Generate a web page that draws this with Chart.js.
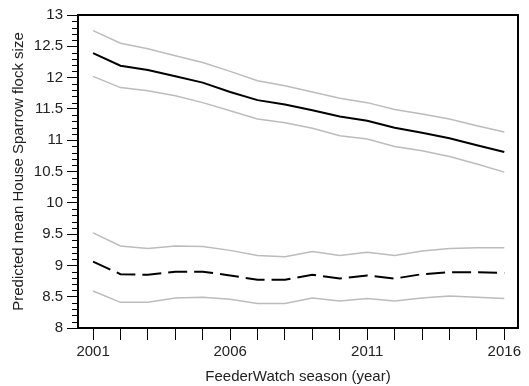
<!DOCTYPE html>
<html>
<head>
<meta charset="utf-8">
<script src="https://cdn.jsdelivr.net/npm/chart.js@4/dist/chart.umd.min.js"></script>
<style>
    html, body { margin: 0; padding: 0; background: #ffffff; }
    #wrap { width: 529px; height: 386px; }
</style>
</head>
<body>
<div id="wrap"><canvas id="chart" width="529" height="386"></canvas></div>
<script>
const years = [2001, 2002, 2003, 2004, 2005, 2006, 2007, 2008, 2009, 2010, 2011, 2012, 2013, 2014, 2015, 2016];
const yearLabels = [2001, 2006, 2011, 2016];

const upperMean = [12.39, 12.19, 12.12, 12.02, 11.92, 11.77, 11.64, 11.57, 11.48, 11.38, 11.31, 11.20, 11.12, 11.03, 10.92, 10.81];
const upperHigh = [12.75, 12.55, 12.46, 12.35, 12.24, 12.10, 11.95, 11.87, 11.77, 11.67, 11.60, 11.49, 11.42, 11.34, 11.23, 11.13];
const upperLow  = [12.02, 11.84, 11.79, 11.71, 11.60, 11.47, 11.34, 11.28, 11.19, 11.07, 11.02, 10.90, 10.83, 10.74, 10.62, 10.49];

const lowerMean = [9.06, 8.86, 8.85, 8.90, 8.90, 8.84, 8.77, 8.77, 8.85, 8.79, 8.84, 8.79, 8.86, 8.89, 8.89, 8.88];
const lowerHigh = [9.52, 9.31, 9.27, 9.31, 9.30, 9.24, 9.16, 9.14, 9.22, 9.16, 9.21, 9.16, 9.23, 9.27, 9.28, 9.28];
const lowerLow  = [8.59, 8.41, 8.41, 8.48, 8.49, 8.46, 8.39, 8.39, 8.48, 8.43, 8.47, 8.43, 8.48, 8.51, 8.49, 8.47];

const grey = '#bcbcbc';
const font = { family: "'Liberation Sans', Arial, sans-serif", size: 15 };

function pts(vals) {
    return vals.map((v, i) => ({ x: years[i], y: v }));
}

function line(vals, color, width, dash) {
    return {
        data: pts(vals),
        borderColor: color,
        borderWidth: width,
        borderDash: dash || [],
        pointRadius: 0,
        fill: false,
        tension: 0,
    };
}

// short minor ticks every 0.1 on the y axis + frame round the plot
const frameAndMinor = {
    id: 'frameAndMinor',
    afterDraw(chart) {
        const ctx = chart.ctx;
        const a = chart.chartArea;
        const y = chart.scales.y;
        ctx.save();
        ctx.strokeStyle = '#000';
        ctx.lineWidth = 1;
        for (let v = 80; v <= 130; v++) {
            if (v % 5 === 0) continue;
            const py = Math.round(y.getPixelForValue(v / 10)) + 0.5;
            ctx.beginPath();
            ctx.moveTo(a.left - 6, py);
            ctx.lineTo(a.left, py);
            ctx.stroke();
        }
        ctx.lineWidth = 2;
        ctx.strokeRect(a.left, a.top, a.right - a.left, a.bottom - a.top);
        ctx.restore();
    }
};

new Chart(document.getElementById('chart'), {
    type: 'line',
    data: {
        datasets: [
            line(upperHigh, grey, 1.5),
            line(upperLow, grey, 1.5),
            line(upperMean, '#000', 2),
            line(lowerHigh, grey, 1.5),
            line(lowerLow, grey, 1.5),
            line(lowerMean, '#000', 2, [19, 7]),
        ]
    },
    options: {
        responsive: false,
        animation: false,
        layout: { padding: { left: 0, right: 11, top: 15, bottom: 0 } },
        scales: {
            x: {
                type: 'linear',
                min: 2000.45,
                max: 2016.5,
                afterBuildTicks: (s) => { s.ticks = years.map(v => ({ value: v })); },
                afterFit: (s) => { s.height = 58; },
                ticks: {
                    color: '#222',
                    font: font,
                    maxRotation: 0,
                    autoSkip: false,
                    padding: 3,
                    callback: (v) => yearLabels.includes(v) ? String(v) : '',
                },
                grid: {
                    drawOnChartArea: false,
                    drawTicks: true,
                    tickLength: 12,
                    tickColor: '#000',
                    tickWidth: 1,
                },
                border: { display: false },
                title: {
                    display: true,
                    text: 'FeederWatch season (year)',
                    color: '#222',
                    font: font,
                    padding: { top: 2, bottom: 0 },
                },
            },
            y: {
                min: 8,
                max: 13,
                afterFit: (s) => { s.width = 78; },
                ticks: {
                    stepSize: 0.5,
                    color: '#222',
                    font: font,
                    padding: 4,
                    callback: (v) => String(Math.round(v * 10) / 10),
                },
                grid: {
                    drawOnChartArea: false,
                    drawTicks: true,
                    tickLength: 11,
                    tickColor: '#000',
                    tickWidth: 1,
                },
                border: { display: false },
                title: {
                    display: true,
                    text: 'Predicted mean House Sparrow flock size',
                    color: '#222',
                    font: font,
                    padding: { top: 10, bottom: 4 },
                },
            }
        },
        plugins: {
            legend: { display: false },
            tooltip: { enabled: false },
        }
    },
    plugins: [frameAndMinor]
});
</script>
</body>
</html>
